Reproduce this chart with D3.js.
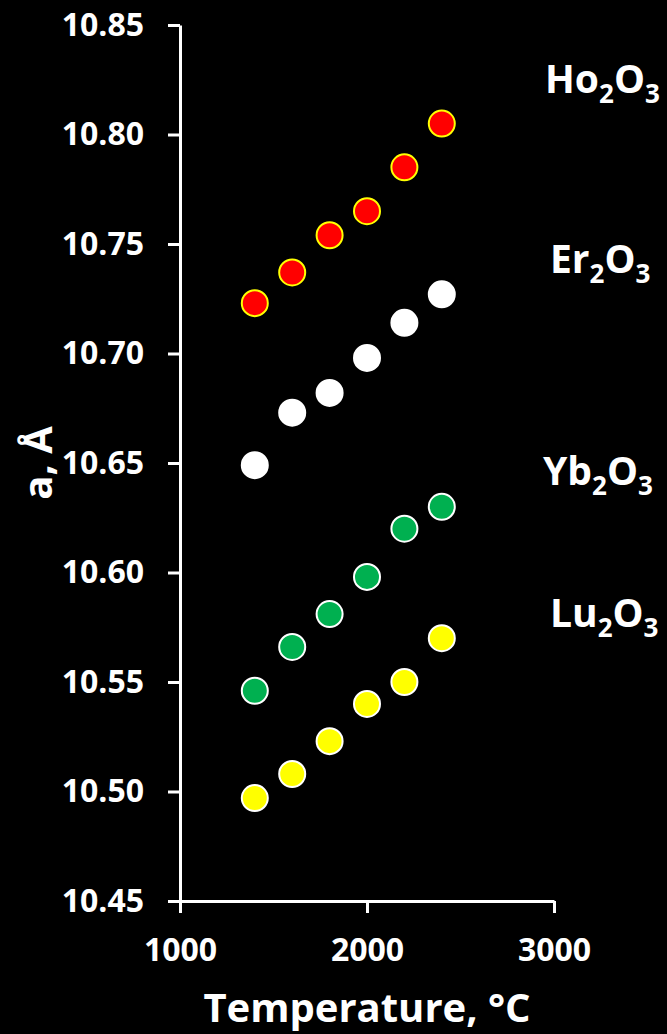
<!DOCTYPE html>
<html>
<head>
<meta charset="utf-8">
<script src="https://cdn.jsdelivr.net/npm/d3@7"></script>
<style>
  html, body { margin: 0; padding: 0; background: #000; }
  svg { display: block; }
  text { font-family: "Open Sans", "Liberation Sans", sans-serif; font-weight: 700; fill: #fff; }
</style>
</head>
<body>
<svg id="chart" width="667" height="1034"></svg>
<script>
// Lattice parameter a (Å) of cubic sesquioxides vs. temperature
const temperatures = [1400, 1600, 1800, 2000, 2200, 2400];
const ho2o3 = [10.723, 10.737, 10.754, 10.765, 10.785, 10.805];
const er2o3 = [10.649, 10.673, 10.682, 10.698, 10.714, 10.727];
const yb2o3 = [10.546, 10.566, 10.581, 10.598, 10.620, 10.630];
const lu2o3 = [10.497, 10.508, 10.523, 10.540, 10.550, 10.570];

const xTicks = [1000, 2000, 3000];
const yTicks = [10.45, 10.50, 10.55, 10.60, 10.65, 10.70, 10.75, 10.80, 10.85];

const seriesNames = ["Ho", "Er", "Yb", "Lu"];
const seriesValues = [ho2o3, er2o3, yb2o3, lu2o3];
const seriesFill = ["#ff0000", "#ffffff", "#00b050", "#ffff00"];
const seriesStroke = ["#ffff00", "#ffffff", "#ffffff", "#ffffff"];

// label placement (pixel positions of each compound name)
const labelPos = [[545, 93], [550, 273], [543, 485], [550, 627]];

const svg = d3.select("#chart");
const margin = { left: 180, top: 25, right: 113, bottom: 133 };
const W = 667 - margin.left - margin.right;
const H = 1034 - margin.top - margin.bottom;

const x = d3.scaleLinear().domain([1000, 3000]).range([0, W]);
const y = d3.scaleLinear().domain([10.45, 10.85]).range([H, 0]);

const g = svg.append("g").attr("transform", `translate(${margin.left},${margin.top})`);

// axes
const yAxis = d3.axisLeft(y).tickValues(yTicks).tickFormat(d3.format(".2f"))
  .tickSize(12).tickSizeOuter(0).tickPadding(24);
const xAxis = d3.axisBottom(x).tickValues(xTicks).tickFormat(d3.format("d"))
  .tickSize(12).tickSizeOuter(0).tickPadding(25);

const gy = g.append("g").call(yAxis);
const gx = g.append("g").attr("transform", `translate(0,${H})`).call(xAxis);

[gx, gy].forEach(ax => {
  ax.selectAll("path.domain").attr("stroke", "#fff").attr("stroke-width", 3);
  ax.selectAll(".tick line").attr("stroke", "#fff").attr("stroke-width", 3);
  ax.selectAll(".tick text")
    .attr("fill", "#fff")
    .style("font-family", '"Open Sans", sans-serif')
    .style("font-weight", 700)
    .style("font-size", "32px");
});

// axis titles
svg.append("text")
  .attr("x", margin.left + x(2000))
  .attr("y", 1022)
  .attr("text-anchor", "middle")
  .style("font-size", "40px")
  .text("Temperature, °C");

svg.append("text")
  .attr("transform", "translate(52,463) rotate(-90)")
  .attr("text-anchor", "middle")
  .style("font-size", "40px")
  .text("a, Å");

// data points
seriesValues.forEach((vals, i) => {
  g.append("g")
    .selectAll("circle")
    .data(temperatures.map((t, j) => [t, vals[j]]))
    .join("circle")
    .attr("cx", d => x(d[0]))
    .attr("cy", d => y(d[1]))
    .attr("r", 13)
    .attr("fill", seriesFill[i])
    .attr("stroke", seriesStroke[i])
    .attr("stroke-width", 2);
});

// compound labels with subscripts
seriesNames.forEach((name, i) => {
  const t = svg.append("text")
    .attr("x", labelPos[i][0])
    .attr("y", labelPos[i][1])
    .style("font-size", "39px");
  t.append("tspan").text(name);
  t.append("tspan").attr("dy", 10).style("font-size", "26px").text("2");
  t.append("tspan").attr("dy", -10).text("O");
  t.append("tspan").attr("dy", 10).style("font-size", "26px").text("3");
});
</script>
</body>
</html>
